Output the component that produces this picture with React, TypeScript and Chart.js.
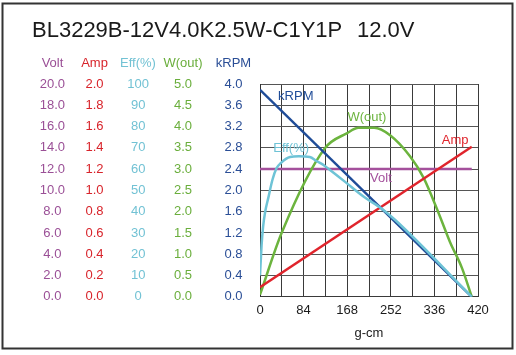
import React, { useEffect, useRef } from 'react';
import { Chart, registerables } from 'chart.js';

Chart.register(...registerables);

// ---- data ----
const seriesNames = ['Volt', 'Amp', 'Eff(%)', 'W(out)', 'kRPM'];

const lineTorque = [0, 408];
const voltValues = [12.0, 12.0];
const ampValues = [0.09, 1.41];
const rpmValues = [3.89, 0];

const effTorque = [0, 3, 6, 10, 16, 24, 32, 40, 50, 58, 75, 96, 109, 125, 138, 164, 200, 234, 260, 408];
const effValues = [10, 24, 33, 40, 46.5, 55, 60.5, 62.8, 64.8, 65.7, 66, 65.7, 63.8, 61.5, 59, 54, 47, 41.5, 36.2, 0];

const wTorque = [0, 42, 125, 167, 190, 220, 250, 289, 315, 344, 366, 389, 408];
const wValues = [0.05, 1.51, 3.49, 3.84, 3.97, 3.97, 3.8, 3.3, 2.8, 1.97, 1.29, 0.68, 0];

const xTicks = ['0', '', '84', '', '168', '', '252', '', '336', '', '420'];
const voltTicks = ['0.0', '2.0', '4.0', '6.0', '8.0', '10.0', '12.0', '14.0', '16.0', '18.0', '20.0'];
const ampTicks = ['0.0', '0.2', '0.4', '0.6', '0.8', '1.0', '1.2', '1.4', '1.6', '1.8', '2.0'];
const effTicks = ['0', '10', '20', '30', '40', '50', '60', '70', '80', '90', '100'];
const wTicks = ['0.0', '0.5', '1.0', '1.5', '2.0', '2.5', '3.0', '3.5', '4.0', '4.5', '5.0'];
const rpmTicks = ['0.0', '0.4', '0.8', '1.2', '1.6', '2.0', '2.4', '2.8', '3.2', '3.6', '4.0'];

const titleMain = 'BL3229B-12V4.0K2.5W-C1Y1P';
const titleVolt = '12.0V';

// ---- styles ----
const FONT = '"Liberation Sans", Arial, Helvetica, sans-serif';
const C_VOLT = '#a4509c';
const C_AMP = '#e0242c';
const C_EFF = '#6ec3d6';
const C_W = '#6cb43e';
const C_RPM = '#1f4c98';
const C_VOLT_T = '#9a4f96';
const C_AMP_T = '#d8242b';
const C_EFF_T = '#72c2d4';
const C_W_T = '#6aae3c';
const C_RPM_T = '#2a4e96';

const pts = (xs: number[], ys: number[]) => xs.map((x, i) => ({ x, y: ys[i] }));

const overlayPlugin = {
  id: 'overlay',
  afterDraw(chart: any) {
    const ctx = chart.ctx;
    ctx.save();
    // frame
    ctx.strokeStyle = '#333';
    ctx.lineWidth = 2;
    ctx.strokeRect(2.5, 3.5, 510, 345);
    // title
    ctx.fillStyle = '#1a1a1a';
    ctx.font = `22px ${FONT}`;
    ctx.textAlign = 'left';
    ctx.textBaseline = 'alphabetic';
    ctx.fillText(titleMain, 32, 37);
    ctx.fillText(titleVolt, 357, 37);
    // column headers
    ctx.font = `13px ${FONT}`;
    ctx.textAlign = 'center';
    const headerX = [52.5, 94.5, 138, 183, 233.5];
    const headerC = [C_VOLT_T, C_AMP_T, C_EFF_T, C_W_T, C_RPM_T];
    seriesNames.forEach((n, i) => {
      ctx.fillStyle = headerC[i];
      ctx.fillText(n, headerX[i], 67);
    });
    // in-plot labels
    const sx = chart.scales.x;
    const labels = [
      { t: 'kRPM', x: 69, y: 3.76, a: 'yRpm', c: C_RPM },
      { t: 'W(out)', x: 206, y: 4.22, a: 'yW', c: C_W },
      { t: 'Eff(%)', x: 60, y: 69.9, a: 'yEff', c: C_EFF },
      { t: 'Volt', x: 233, y: 11.1, a: 'yVolt', c: C_VOLT },
      { t: 'Amp', x: 376, y: 1.47, a: 'yAmp', c: C_AMP },
    ];
    ctx.textBaseline = 'middle';
    labels.forEach((l) => {
      ctx.fillStyle = l.c;
      ctx.fillText(l.t, sx.getPixelForValue(l.x), chart.scales[l.a].getPixelForValue(l.y));
    });
    ctx.restore();
  },
};

function leftAxis(min: number, max: number, step: number, labels: string[], color: string, weight: number, width: number, pad: number, gridOn: boolean) {
  return {
    type: 'linear',
    position: 'left',
    weight,
    min,
    max,
    ticks: {
      stepSize: step,
      color,
      font: { size: 13, family: FONT },
      crossAlign: 'center',
      padding: pad,
      autoSkip: false,
      callback: (_v: any, i: number) => labels[i],
    },
    grid: gridOn
      ? { display: true, color: '#555', lineWidth: 1, drawTicks: false }
      : { display: false, drawTicks: false, drawOnChartArea: false },
    border: gridOn ? { display: true, color: '#333', width: 1 } : { display: false },
    afterFit: (s: any) => {
      s.width = width;
    },
  };
}

export default function App() {
  const ref = useRef<HTMLCanvasElement | null>(null);
  useEffect(() => {
    if (!ref.current) return;
    Chart.defaults.font.family = FONT;
    const chart = new Chart(ref.current, {
      type: 'line',
      data: {
        datasets: [
          { label: seriesNames[2], data: pts(effTorque, effValues), yAxisID: 'yEff', borderColor: C_EFF, borderWidth: 2.5, pointRadius: 0, cubicInterpolationMode: 'monotone', fill: false },
          { label: seriesNames[4], data: pts(lineTorque, rpmValues), yAxisID: 'yRpm', borderColor: C_RPM, borderWidth: 2.5, pointRadius: 0, fill: false },
          { label: seriesNames[1], data: pts(lineTorque, ampValues), yAxisID: 'yAmp', borderColor: C_AMP, borderWidth: 2.5, pointRadius: 0, fill: false },
          { label: seriesNames[3], data: pts(wTorque, wValues), yAxisID: 'yW', borderColor: C_W, borderWidth: 2.5, pointRadius: 0, cubicInterpolationMode: 'monotone', fill: false },
          { label: seriesNames[0], data: pts(lineTorque, voltValues), yAxisID: 'yVolt', borderColor: C_VOLT, borderWidth: 2.5, pointRadius: 0, fill: false },
        ],
      } as any,
      options: {
        responsive: false,
        animation: false,
        devicePixelRatio: 1,
        layout: { padding: { left: 0, top: 84, right: 38, bottom: 14 } },
        plugins: { legend: { display: false }, tooltip: { enabled: false }, title: { display: false } },
        scales: {
          x: {
            type: 'linear',
            min: 0,
            max: 420,
            ticks: {
              stepSize: 42,
              autoSkip: false,
              maxRotation: 0,
              padding: 6,
              color: '#1a1a1a',
              font: { size: 13, family: FONT },
              callback: (_v: any, i: number) => xTicks[i],
            },
            grid: { color: '#3a3a3a', lineWidth: 1, drawTicks: false },
            border: { color: '#3a3a3a', width: 1 },
            title: { display: true, text: 'g-cm', color: '#1a1a1a', font: { size: 13, family: FONT }, padding: { top: 1, bottom: 0 } },
          },
          yVolt: leftAxis(0, 20, 2, voltTicks, C_VOLT_T, 5, 65, 0, false),
          yAmp: leftAxis(0, 2, 0.2, ampTicks, C_AMP_T, 4, 38.5, 0, false),
          yEff: leftAxis(0, 100, 10, effTicks, C_EFF_T, 3, 45.5, 0, false),
          yW: leftAxis(0, 5, 0.5, wTicks, C_W_T, 2, 43, 0, false),
          yRpm: leftAxis(0, 4, 0.4, rpmTicks, C_RPM_T, 1, 68, 17.5, true),
        } as any,
      },
      plugins: [overlayPlugin],
    } as any);
    return () => chart.destroy();
  }, []);
  return (
    <div style={{ position: 'absolute', left: 0, top: 0, width: 516, height: 355, background: '#fff' }}>
      <canvas ref={ref} width={516} height={355} style={{ display: 'block', width: 516, height: 355 }} />
    </div>
  );
}
